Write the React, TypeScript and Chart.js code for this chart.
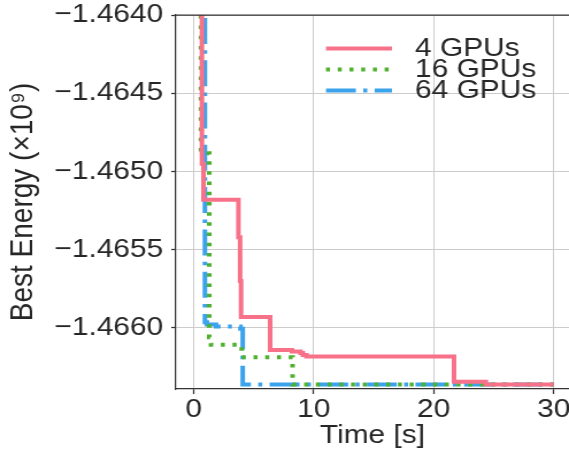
import React, { useEffect, useRef } from 'react';
import { Chart, registerables } from 'chart.js';

Chart.register(...registerables);

// ---- data ----
const SERIES_LABELS = ['4 GPUs', '16 GPUs', '64 GPUs'];
const SERIES_COLORS = ['#f77189', '#50b131', '#3ba3ec'];

const TIME_4 = [0.0, 0.69, 0.82, 3.73, 3.87, 3.95, 6.37, 8.19, 8.9, 9.1, 9.4, 21.69, 24.34, 30.0];
const ENERGY_4 = [-1.463, -1.46495, -1.46518, -1.46542, -1.4657, -1.46593, -1.46614, -1.46615, -1.46616, -1.466172, -1.466183, -1.466343, -1.466362, -1.466362];

const TIME_16 = [0.0, 0.61, 1.3, 1.45, 4.0, 8.24, 30.0];
const ENERGY_16 = [-1.463, -1.464883, -1.46606, -1.466108, -1.466187, -1.466362, -1.466362];

const TIME_64 = [0.0, 0.94, 1.1, 1.86, 3.9, 4.09, 30.0];
const ENERGY_64 = [-1.463, -1.465963, -1.465978, -1.46599, -1.466005, -1.466362, -1.466362];

const X_TICKS = [0, 10, 20, 30];
const Y_TICKS = [-1.466, -1.4655, -1.465, -1.4645, -1.464];
const X_MIN = -1.48;
const X_MAX = 31.27;
const Y_MIN = -1.46639;
const Y_MAX = -1.464;
const X_TITLE = 'Time [s]';
const Y_TITLE = 'Best Energy (×10⁹)';

// ---- geometry / style ----
const CSS_W = 569;
const CSS_H = 452;
const W = 495; // internal width, stretched horizontally to CSS_W
const FONT = "'Liberation Sans', Arial, Helvetica, sans-serif";
const TEXT = '#262626';
const SPINE = '#333333';
const GRID = '#cccccc';
const LEG_X0 = 283.6;
const LEG_X1 = 341.0;
const LEG_TX = 361.0;
const LEG_Y0 = 48.6;
const LEG_ROW = 21;

const toPts = (ts: number[], es: number[]) => ts.map((t, i) => ({ x: t, y: es[i] }));

const legendDraw = {
  id: 'legendDraw',
  afterDatasetsDraw(chart: any) {
    const ctx = chart.ctx;
    chart.data.datasets.forEach((ds: any, i: number) => {
      const y = LEG_Y0 + i * LEG_ROW;
      ctx.save();
      ctx.strokeStyle = ds.borderColor;
      ctx.lineWidth = ds.borderWidth;
      ctx.lineCap = 'butt';
      ctx.setLineDash(ds.borderDash || []);
      ctx.beginPath();
      ctx.moveTo(LEG_X0, y);
      ctx.lineTo(LEG_X1, y);
      ctx.stroke();
      ctx.setLineDash([]);
      ctx.fillStyle = TEXT;
      ctx.font = `26px ${FONT}`;
      ctx.textAlign = 'left';
      ctx.textBaseline = 'middle';
      ctx.fillText(ds.label, LEG_TX, y);
      ctx.restore();
    });
  },
};

const topSpine = {
  id: 'topSpine',
  afterDraw(chart: any) {
    const { ctx, chartArea } = chart;
    ctx.save();
    ctx.strokeStyle = SPINE;
    ctx.lineWidth = 1.25;
    ctx.beginPath();
    ctx.moveTo(chartArea.left, chartArea.top);
    ctx.lineTo(chartArea.right, chartArea.top);
    ctx.stroke();
    ctx.restore();
  },
};

export default function App() {
  const ref = useRef<HTMLCanvasElement>(null);

  useEffect(() => {
    const canvas = ref.current;
    if (!canvas) return;
    const mk = (i: number, ts: number[], es: number[], dash: number[]) => ({
      label: SERIES_LABELS[i],
      data: toPts(ts, es),
      borderColor: SERIES_COLORS[i],
      backgroundColor: SERIES_COLORS[i],
      borderWidth: 4,
      borderDash: dash,
      borderCapStyle: 'butt',
      borderJoinStyle: 'miter',
      stepped: 'before',
      pointRadius: 0,
      pointHoverRadius: 0,
      fill: false,
      clip: 0,
    });
    const chart = new Chart(canvas, {
      type: 'line',
      data: {
        datasets: [
          mk(0, TIME_4, ENERGY_4, []),
          mk(1, TIME_16, ENERGY_16, [3.5, 6.7]),
          mk(2, TIME_64, ENERGY_64, [26, 6.4, 3.5, 6.4]),
        ] as any,
      },
      options: {
        responsive: false,
        devicePixelRatio: 1,
        animation: false,
        events: [],
        layout: { padding: { top: 15, left: 0, right: 0, bottom: 0 } },
        scales: {
          x: {
            type: 'linear',
            min: X_MIN,
            max: X_MAX,
            afterBuildTicks: (s: any) => {
              s.ticks = X_TICKS.map((v) => ({ value: v }));
            },
            afterFit: (s: any) => {
              s.height = 63;
              s.paddingLeft = 0;
              s.paddingRight = 0;
            },
            grid: { color: GRID, lineWidth: 1, drawTicks: true, tickLength: 5, tickColor: SPINE, tickWidth: 1.25 },
            border: { display: true, color: SPINE, width: 1.25 },
            ticks: {
              color: TEXT,
              font: { family: FONT, size: 26 },
              padding: 0,
              maxRotation: 0,
              autoSkip: false,
              callback: (v: any) => String(v),
            },
            title: {
              display: true,
              text: X_TITLE,
              color: TEXT,
              font: { family: FONT, size: 26 },
              padding: { top: 0, bottom: 1 },
            },
          },
          y: {
            type: 'linear',
            min: Y_MIN,
            max: Y_MAX,
            afterBuildTicks: (s: any) => {
              s.ticks = Y_TICKS.map((v) => ({ value: v }));
            },
            afterFit: (s: any) => {
              s.width = 153;
              s.paddingTop = 0;
              s.paddingBottom = 0;
            },
            grid: { color: GRID, lineWidth: 1, drawTicks: true, tickLength: 4, tickColor: SPINE, tickWidth: 1.25 },
            border: { display: true, color: SPINE, width: 1.25 },
            ticks: {
              color: TEXT,
              font: { family: FONT, size: 26 },
              padding: 7,
              autoSkip: false,
              callback: (v: any) => '\u2212' + Math.abs(Number(v)).toFixed(4),
            },
            title: {
              display: true,
              text: Y_TITLE,
              color: TEXT,
              font: { family: FONT, size: 28 },
              padding: { top: 3.2, bottom: 0 },
            },
          },
        },
        plugins: {
          tooltip: { enabled: false },
          legend: { display: false },
        },
      } as any,
      plugins: [legendDraw, topSpine],
    });
    return () => chart.destroy();
  }, []);

  return (
    <div style={{ position: 'fixed', left: 0, top: 0, width: CSS_W, height: CSS_H, background: '#fff' }}>
      <canvas
        ref={ref}
        width={W}
        height={CSS_H}
        style={{ width: CSS_W + 'px', height: CSS_H + 'px', display: 'block' }}
      />
    </div>
  );
}
